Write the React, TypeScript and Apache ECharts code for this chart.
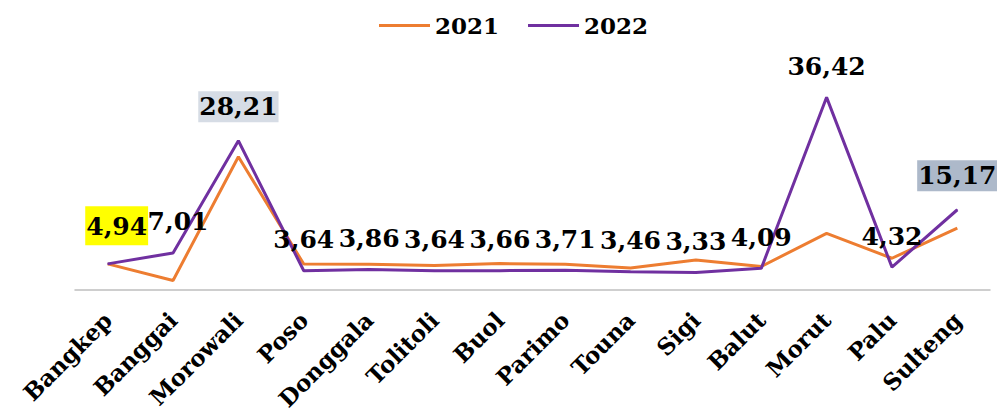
import React, { useEffect, useRef } from "react";
import * as echarts from "echarts";

const categories = [
  "Bangkep", "Banggai", "Morowali", "Poso", "Donggala", "Tolitoli", "Buol",
  "Parimo", "Touna", "Sigi", "Balut", "Morut", "Palu", "Sulteng",
];
const values2021 = [4.94, 1.8, 25.2, 4.9, 4.85, 4.65, 5.0, 4.85, 4.15, 5.65, 4.45, 10.7, 6.0, 11.7];
const values2022 = [4.94, 7.01, 28.21, 3.64, 3.86, 3.64, 3.66, 3.71, 3.46, 3.33, 4.09, 36.42, 4.32, 15.17];
const seriesNames = ["2021", "2022"];

const highlightBg: Record<string, string> = {
  Bangkep: "#FFFF00",
  Morowali: "#D6DCE5",
  Sulteng: "#ADB9CA",
};
const labelShift: Record<string, number> = { Bangkep: 9, Banggai: 5 };

const FONT = "'DejaVu Serif', serif";
const fmt = (v: number) => v.toFixed(2).replace(".", ",");

const baseLabel = {
  show: true,
  position: "top",
  distance: 18,
  fontFamily: FONT,
  fontWeight: "bold",
  fontSize: 25,
  color: "#000",
};

export default function App() {
  const ref = useRef<HTMLDivElement>(null);
  useEffect(() => {
    if (!ref.current) return;
    const chart = echarts.init(ref.current, undefined, { renderer: "svg" });
    const data2022 = values2022.map((v, i) => {
      const c = categories[i];
      const bg = highlightBg[c];
      const shift = labelShift[c] || 0;
      if (!bg && !shift) return v;
      const label: any = { ...baseLabel, offset: [shift, 0] };
      if (bg) {
        label.backgroundColor = bg;
        label.padding = c === "Bangkep" ? [8, 1, 6, 1] : [3, 1, 3, 1];
      }
      return { value: v, label };
    });
    chart.setOption({
      animation: false,
      backgroundColor: "#ffffff",
      legend: {
        left: 374,
        top: 9,
        icon: "rect",
        itemWidth: 51,
        itemHeight: 3,
        itemGap: 29,
        textStyle: { fontFamily: FONT, fontWeight: "bold", fontSize: 23, color: "#000" },
        data: seriesNames,
      },
      grid: { left: 75, right: 7, top: 78.4, bottom: 125, containLabel: false },
      xAxis: {
        type: "category",
        data: categories,
        boundaryGap: true,
        axisLine: { show: true, lineStyle: { color: "#BFBFBF", width: 1.5 } },
        axisTick: { show: false },
        axisLabel: {
          interval: 0,
          rotate: 45,
          margin: 26,
          fontFamily: FONT,
          fontWeight: "bold",
          fontSize: 23,
          color: "#000",
        },
      },
      yAxis: {
        type: "value",
        min: 0,
        max: 40,
        show: false,
        splitLine: { show: false },
      },
      series: [
        {
          name: seriesNames[0],
          type: "line",
          data: values2021,
          symbol: "none",
          lineStyle: { color: "#ED7D31", width: 3 },
          itemStyle: { color: "#ED7D31" },
        },
        {
          name: seriesNames[1],
          type: "line",
          data: data2022,
          symbol: "circle",
          symbolSize: 1,
          showSymbol: true,
          lineStyle: { color: "#7030A0", width: 3 },
          itemStyle: { color: "#7030A0" },
          label: {
            ...baseLabel,
            formatter: (p: any) => fmt(p.value),
          },
        },
      ],
    });
    return () => chart.dispose();
  }, []);
  return (
    <div
      ref={ref}
      style={{ position: "fixed", left: 0, top: 0, width: 997, height: 415 }}
    />
  );
}
